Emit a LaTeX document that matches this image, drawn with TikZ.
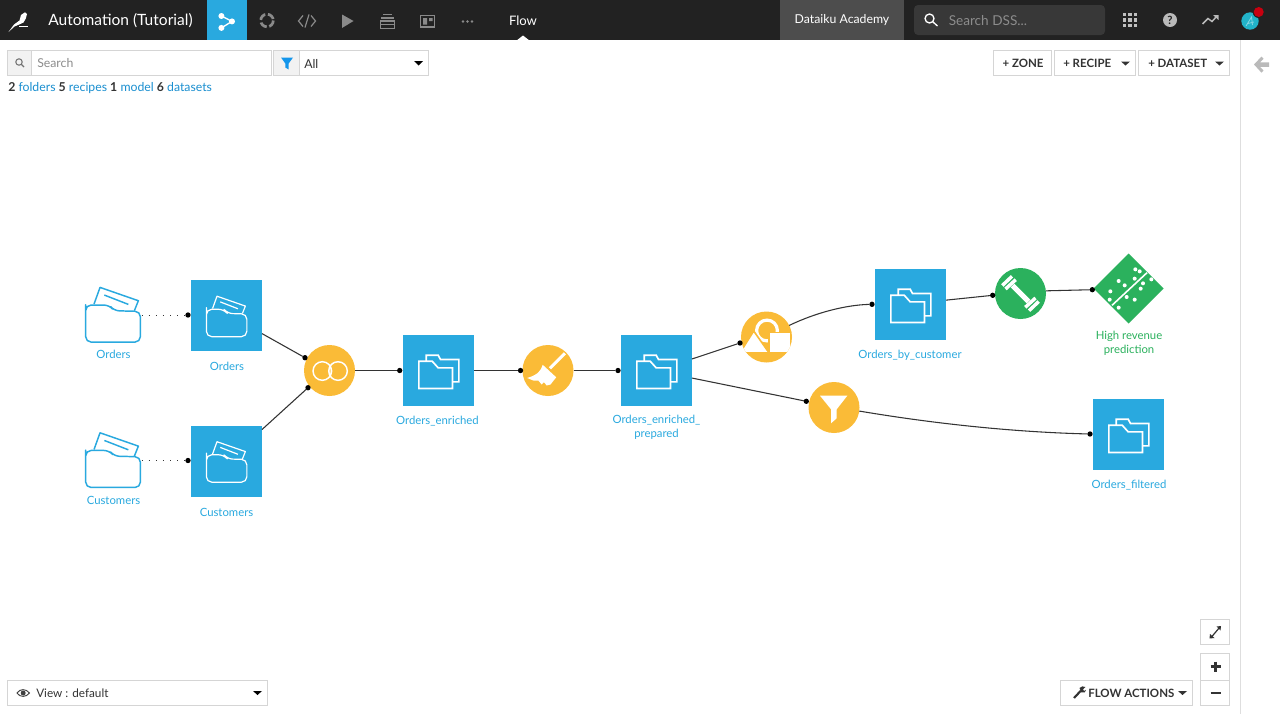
\documentclass[tikz,border=0pt]{standalone}
\usepackage{fontspec}
\setmainfont{Lato}
\definecolor{navbg}{HTML}{222222}
\definecolor{tabblue}{HTML}{29A9DF}
\definecolor{dsblue}{HTML}{29A9DF}
\definecolor{recipe}{HTML}{FABB37}
\definecolor{modelgreen}{HTML}{2BB15D}
\definecolor{linkblue}{HTML}{1A8FD0}
\definecolor{boxline}{HTML}{D5D5D5}
\definecolor{navicon}{HTML}{8A8A8A}
\definecolor{ink}{HTML}{333333}
\definecolor{academy}{HTML}{4D4D4D}
\definecolor{avatar}{HTML}{22B3C9}
\definecolor{alertred}{HTML}{C8000F}
\definecolor{filterblue}{HTML}{1496EB}
\newcommand{\fs}[1]{\fontsize{#1}{#1}\selectfont}
\tikzset{
  x=0.75pt,y=-0.75pt,
  dsnode/.style={rectangle,fill=dsblue,minimum size=53.25pt,inner sep=0pt,outer sep=0pt},
  recipenode/.style={circle,fill=recipe,minimum size=38.25pt,inner sep=0pt,outer sep=0pt},
  trainnode/.style={circle,fill=modelgreen,minimum size=38.25pt,inner sep=0pt,outer sep=0pt},
  foldernode/.style={rectangle,minimum width=42pt,minimum height=30pt,inner sep=0pt,outer sep=0pt},
  dotnode/.style={circle,fill=black,minimum size=4pt,inner sep=0pt,outer sep=0pt},
  modelnode/.style={rectangle,minimum size=37pt,inner sep=0pt,outer sep=0pt},
  edge/.style={draw=ink,line width=0.8pt},
  dotedge/.style={draw=ink,line width=0.75pt,dash pattern=on 0.75pt off 4.6pt},
  dslabel/.style={text=dsblue,font=\fs{8.5},align=center,inner sep=0pt,execute at begin node={\setlength{\baselineskip}{10.5pt}}},
  modellabel/.style={dslabel,text=modelgreen},
  box/.style={draw=boxline,line width=0.75pt,fill=white},
  btntext/.style={text=ink,font=\fs{8.6}\bfseries,inner sep=0pt},
  navtext/.style={text=white,inner sep=0pt},
  foldopen/.pic={
    \begin{scope}[scale=0.3333]
      \path[pic actions,rounded corners=4pt,line join=round]
        (0,68) -- (0,164) -- (164,164) -- (164,72) -- (85,70) -- (71,53) -- (0,53) -- cycle;
      \path[pic actions,line join=round] (25,50) -- (43,0) -- (158,40) -- (146,70);
      \path[pic actions] (56,23) -- (128,51);
    \end{scope}
  },
  folddouble/.pic={
    \begin{scope}[scale=0.3333,line join=miter]
      \path[pic actions] (-59,54) -- (-59,-28) -- (-19,-28) -- (-1,-8) -- (42,-8) -- (42,54) -- cycle;
      \path[pic actions] (-37,-28) -- (-37,-46) -- (-1,-46) -- (6,-33) -- (61,-33) -- (61,34) -- (42,34);
    \end{scope}
  },
}
\begin{document}
\begin{tikzpicture}
\useasboundingbox (0,0) rectangle (1280,714);
\fill[white] (0,0) rectangle (1280,714);

% ---------- top bar
\fill[navbg] (0,0) rectangle (1280,40);
\fill[tabblue] (207,0) rectangle (247,40);
\fill[academy] (780,0) rectangle (904,40);
\fill[black!78,rounded corners=3pt] (914,5) rectangle (1105,35);
% logo
\fill[white] (8.5,32) -- (14,24.5) -- (19.5,20.5) -- (21,15) -- (25,12.3) -- (27,14) -- (25.8,18.5) -- (23.5,22.5) -- (19,24.6) -- (14.5,26.5) -- cycle;
\draw[white,line width=1.1pt] (19,26.5) -- (28,26.5);
\node[navtext,font=\fs{11.65},anchor=west] (title) at (48,21) {Automation (Tutorial)};
% flow tab icon
\draw[white,line width=1pt] (221.4,16) -- (232,21.4) -- (221.4,27.9);
\fill[white] (221.4,16) circle[radius=3] (232,21.4) circle[radius=3] (221.4,27.9) circle[radius=3];
% nav icons
\draw[navicon,line width=2pt,dash pattern=on 5.6pt off 2pt] (267,20.5) circle[radius=6.3];
\draw[navicon,line width=0.9pt] (303,15.5) -- (298.5,21) -- (303,26.5) (311,15.5) -- (315.5,21) -- (311,26.5) (309,14.5) -- (305,27.5);
\fill[navicon] (342,14.5) -- (353.5,21) -- (342,28) -- cycle;
\draw[navicon,line width=1pt] (383,14.8) -- (392,14.8) (381,18) -- (394,18);
\draw[navicon,line width=1pt] (380.5,21) -- (394.5,21) -- (394.5,28.5) -- (380.5,28.5) -- cycle (380.5,24.5) -- (394.5,24.5);
\draw[navicon,line width=1pt] (420.5,15.5) rectangle (434.5,27);
\fill[navicon] (423,18) rectangle (427,24.5) (429,18) rectangle (432.5,21);
\fill[navicon] (463,21.5) circle[radius=1.3] (467.5,21.5) circle[radius=1.3] (472,21.5) circle[radius=1.3];
\node[navtext,font=\fs{9.8}] (flowtxt) at (523,20.5) {Flow};
\fill[white] (517,40.2) -- (523,35.5) -- (529,40.2) -- cycle;
\node[navtext,font=\fs{9.2}] (academytxt) at (842,20.5) {Dataiku Academy};
\draw[white,line width=1pt] (929.5,18.5) circle[radius=4.5] (932.8,21.8) -- (937.5,26);
\node[text=black!45,inner sep=0pt,font=\fs{10.2},anchor=west] (dss) at (948.5,21) {Search DSS...};
\foreach \gx in {1124.5,1130,1135.5}\foreach \gy in {14.5,20,25.5}{\fill[black!25] (\gx-1.8,\gy-1.8) rectangle (\gx+1.8,\gy+1.8);}
\fill[black!27] (1170,20) circle[radius=7];
\node[text=navbg,font=\fs{8.5}\bfseries,inner sep=0pt] (help) at (1170,20) {?};
\draw[black!27,line width=1.1pt] (1202.5,24) -- (1208,18.5) -- (1212,21.5) -- (1217,16);
\fill[black!27] (1213,15) -- (1218.5,15) -- (1218.5,20) -- cycle;
\fill[avatar] (1250,21) circle[radius=8.7];
\draw[white,opacity=.45,line width=.6pt] (1246,26) -- (1251.5,17) -- (1252.5,25) (1248,23.5) -- (1254,22);
\fill[navbg] (1258.7,12) circle[radius=6];
\fill[alertred] (1258.7,12) circle[radius=5];

% ---------- search row
\draw[box] (7.5,50.5) rectangle (271.5,75.5);
\fill[black!5] (8,51) rectangle (31.5,75);
\draw[boxline,line width=.75pt] (31.5,50.5) -- (31.5,75.5);
\draw[black!55,line width=.8pt] (19,62) circle[radius=3.2] (21.3,64.3) -- (24,67);
\node[text=black!45,inner sep=0pt,font=\fs{9.2},anchor=west] (searchtxt) at (37,63.5) {Search};
\draw[box] (273.5,50.5) rectangle (428.5,75.5);
\fill[black!5] (274,51) rectangle (299,75);
\draw[boxline,line width=.75pt] (299.5,50.5) -- (299.5,75.5);
\fill[filterblue] (281,57.5) -- (293,57.5) -- (288.7,63.5) -- (288.7,69.5) -- (285.3,67.5) -- (285.3,63.5) -- cycle;
\node[text=ink,inner sep=0pt,font=\fs{9.2},anchor=west] (alltxt) at (304,63.5) {All};
\fill[black] (414,61) -- (423,61) -- (418.5,65.5) -- cycle;
\node[inner sep=0pt,font=\fs{9.2},anchor=west] (status) at (8,88.5) {\textcolor{ink}{\bfseries 2} \textcolor{linkblue}{folders} \textcolor{ink}{\bfseries 5} \textcolor{linkblue}{recipes} \textcolor{ink}{\bfseries 1} \textcolor{linkblue}{model} \textcolor{ink}{\bfseries 6} \textcolor{linkblue}{datasets}};

% ---------- right buttons
\draw[box] (993.5,50.5) rectangle (1051.5,75.5);
\node[btntext] (zone) at (1023,63.5) {+ ZONE};
\draw[box] (1054.7,50.5) rectangle (1135.7,75.5);
\node[btntext,anchor=west] (recipebtn) at (1063,63.5) {+ RECIPE};
\fill[ink] (1121,61.5) -- (1130,61.5) -- (1125.5,65.5) -- cycle;
\draw[box] (1138.8,50.5) rectangle (1229.7,75.5);
\node[btntext,anchor=west] (datasetbtn) at (1148,63.5) {+ DATASET};
\fill[ink] (1215,61.5) -- (1224,61.5) -- (1219.5,65.5) -- cycle;
\draw[black!13,line width=.75pt] (1240.5,40) -- (1240.5,714);
\fill[black!27] (1254,64.5) -- (1261.5,56.5) -- (1263.5,58.8) -- (1260,62.3) -- (1269,62.3) -- (1269,66.8) -- (1260,66.8) -- (1263.5,70.4) -- (1261.5,72.7) -- cycle;

% ---------- flow nodes
\node[foldernode] (fOrders) at (113.5,315) {};
\node[foldernode] (fCustomers) at (113.5,460.5) {};
\pic[draw=dsblue,line width=1.1pt] at (85.7,287.4) {foldopen};
\pic[draw=dsblue,line width=1.1pt] at (85.7,432.8) {foldopen};
\node[dsnode] (dsOrders) at (226.5,315.5) {};
\node[dsnode] (dsCustomers) at (226.5,461.5) {};
\node[dsnode] (dsEnriched) at (438.5,370.5) {};
\node[dsnode] (dsPrepared) at (656.5,370.5) {};
\node[dsnode] (dsByCust) at (910.5,304.5) {};
\node[dsnode] (dsFiltered) at (1128.5,434.5) {};
\pic[draw=white,line width=0.9pt,scale=0.74] at (206.4,296.2) {foldopen};
\pic[draw=white,line width=0.9pt,scale=0.74] at (206.4,441.7) {foldopen};
\foreach \nm in {dsEnriched,dsPrepared,dsByCust,dsFiltered}{
  \pic[draw=white,line width=1.25pt] at (\nm) {folddouble};
}
\node[recipenode] (rJoin) at (329.5,370.5) {};
\node[recipenode] (rPrep) at (548,370.5) {};
\node[recipenode] (rGroup) at (766.5,337) {};
\node[recipenode] (rFilter) at (834,407.5) {};
\node[trainnode] (rTrain) at (1020.5,293.5) {};
\node[modelnode] (model) at (1128.7,288.5) {};
\fill[modelgreen] (1128.7,253.5) -- (1163.7,288.5) -- (1128.7,323.5) -- (1093.7,288.5) -- cycle;

% join icon
\begin{scope}
  \clip (322.3,371) circle[radius=9.3];
  \fill[white,opacity=.35] (338,371) circle[radius=9.3];
\end{scope}
\draw[white,line width=1.1pt] (322.3,371) circle[radius=9.3] (338,371) circle[radius=9.3];
% broom icon
\draw[white,line width=2.3pt] (565,353.3) -- (550,368.3);
\fill[white] (527.2,378) .. controls (537.3,375) and (541,371) .. (542.7,364.8) -- (556.2,377.3) -- (550.5,384.5) -- (546.7,385.5) -- (544,382.2) -- (541.7,384.5) -- (538.3,380.5) -- (533.3,380.5) -- cycle;
% group icon
\begin{scope}
  \clip (rGroup) circle[radius=25.5];
  \draw[white,line width=2.4pt] (767,330.5) circle[radius=10.4];
  \fill[white,draw=recipe,line width=1.2pt] (753.7,331) -- (740,352.8) -- (769,352.8) -- cycle;
  \fill[white,draw=recipe,line width=1.2pt] (768.8,332.5) rectangle (790.5,352.8);
\end{scope}
% filter icon
\fill[white] (820,395.7) -- (847.3,395.7) -- (836.7,409.3) -- (836.7,418.3) -- (831,423.3) -- (831,409.3) -- cycle;
% train icon
\begin{scope}[shift={(1020.5,293.5)}]
  \draw[white,line width=3.8pt] (-8,-8) -- (8,8);
  \draw[white,line width=2.6pt] (-15,-4.5) -- (-4.8,-13.8) (-18.2,-8) -- (-8.5,-17.2);
  \draw[white,line width=2.6pt] (15,4.5) -- (4.8,13.8) (18.2,8) -- (8.5,17.2);
\end{scope}
% model icon
\begin{scope}[shift={(1092,252)}]
  \draw[white,line width=1.2pt] (20,53.3) -- (55,20.7);
  \foreach \mx/\my in {130/52,143/58,80/87,98/100,128/80,153/94,178/82,146/110,55/118,53/143,104/135,128/143,80/167}{
    \fill[white] ({\mx/3},{\my/3}) circle[radius=2];
  }
\end{scope}

% ---------- dots
\node[dotnode] (d1) at (188,315) {};
\node[dotnode] (d2) at (188,460.5) {};
\node[dotnode] (d3) at (305,357.7) {};
\node[dotnode] (d4) at (308,387.7) {};
\node[dotnode] (d5) at (399.7,370.5) {};
\node[dotnode] (d6) at (520.5,370.5) {};
\node[dotnode] (d7) at (618,370.5) {};
\node[dotnode] (d8) at (740,343) {};
\node[dotnode] (d9) at (806.3,401.3) {};
\node[dotnode] (d10) at (872,304.3) {};
\node[dotnode] (d11) at (992.7,295.3) {};
\node[dotnode] (d12) at (1092.3,289.7) {};
\node[dotnode] (d13) at (1090,434) {};

% ---------- connectors
\draw[dotedge] (fOrders.east) -- (d1);
\draw[dotedge] (fCustomers.east) -- (d2);
\draw[edge] (dsOrders.-27.5) -- (d3);
\draw[edge] (dsCustomers.42) -- (d4);
\draw[edge] (rJoin.east) -- (d5);
\draw[edge] (dsEnriched.east) -- (d6);
\draw[edge] (rPrep.east) -- (d7);
\draw[edge] (dsPrepared.18) -- (d8);
\draw[edge] (dsPrepared.-12) -- (d9);
\draw[edge] (rGroup.27) .. controls (815,313) and (845,305) .. (d10);
\draw[edge] (dsByCust.7) -- (d11);
\draw[edge] (rTrain.6) -- (d12);
\draw[edge] (rFilter.-8) .. controls (930,423) and (1010,432) .. (d13);

% ---------- labels
\node[dslabel] (lfOrders) at (113.5,354.5) {Orders};
\node[dslabel] (lfCustomers) at (113.5,500.5) {Customers};
\node[dslabel] (lOrders) at (227,366.5) {Orders};
\node[dslabel] (lCustomers) at (226.5,512) {Customers};
\node[dslabel] (lEnriched) at (437.5,421.5) {Orders\_enriched};
\node[dslabel] (lPrepared) at (656.5,427.5) {Orders\_enriched\_\\prepared};
\node[dslabel] (lByCust) at (910,355.5) {Orders\_by\_customer};
\node[dslabel] (lFiltered) at (1129,485.5) {Orders\_filtered};
\node[modellabel] (lModel) at (1129,343.5) {High revenue\\prediction};

% ---------- bottom controls
\draw[box] (7.7,680.3) rectangle (267.7,705.7);
\draw[black!75,line width=.7pt,fill=white] (17,693) .. controls (20,688.5) and (26,688.5) .. (29.5,693) .. controls (26,697.5) and (20,697.5) .. (17,693) -- cycle;
\fill[black!75] (23.2,693) circle[radius=2.5];
\node[text=ink,inner sep=0pt,font=\fs{8.8},anchor=west] (viewtxt) at (36,693.5) {View : default};
\fill[black] (253,691) -- (262,691) -- (257.5,695) -- cycle;
\draw[box] (1060.7,680) rectangle (1192.7,705.7);
\draw[ink,line width=1.6pt] (1074,698) -- (1081,690.5);
\fill[ink] (1079.5,688) .. controls (1081,686) and (1083.5,686) .. (1085.5,687) -- (1083,689.2) -- (1084,691) -- (1086,689.8) .. controls (1086,692) and (1084,693.5) .. (1081.5,692.5) -- cycle;
\node[btntext,anchor=west] (flowact) at (1088,693.5) {FLOW ACTIONS};
\fill[ink] (1178,691) -- (1187,691) -- (1182.5,695) -- cycle;
\draw[box] (1200.7,619.3) rectangle (1229.5,644.7);
\draw[ink,line width=.9pt] (1211.5,637) -- (1219.5,627.5);
\fill[ink] (1216.5,626.5) -- (1221,626) -- (1220.5,630.5) -- cycle (1210,634) -- (1209.5,638.5) -- (1214.5,638) -- cycle;
\draw[box] (1200.7,653.3) rectangle (1229.5,680);
\draw[box] (1200.7,680) rectangle (1229.5,705.7);
\draw[ink,line width=1.8pt] (1210.5,666.5) -- (1220.5,666.5) (1215.5,661.5) -- (1215.5,671.5);
\draw[ink,line width=1.8pt] (1210.5,692.7) -- (1220.5,692.7);
\end{tikzpicture}
\end{document}
